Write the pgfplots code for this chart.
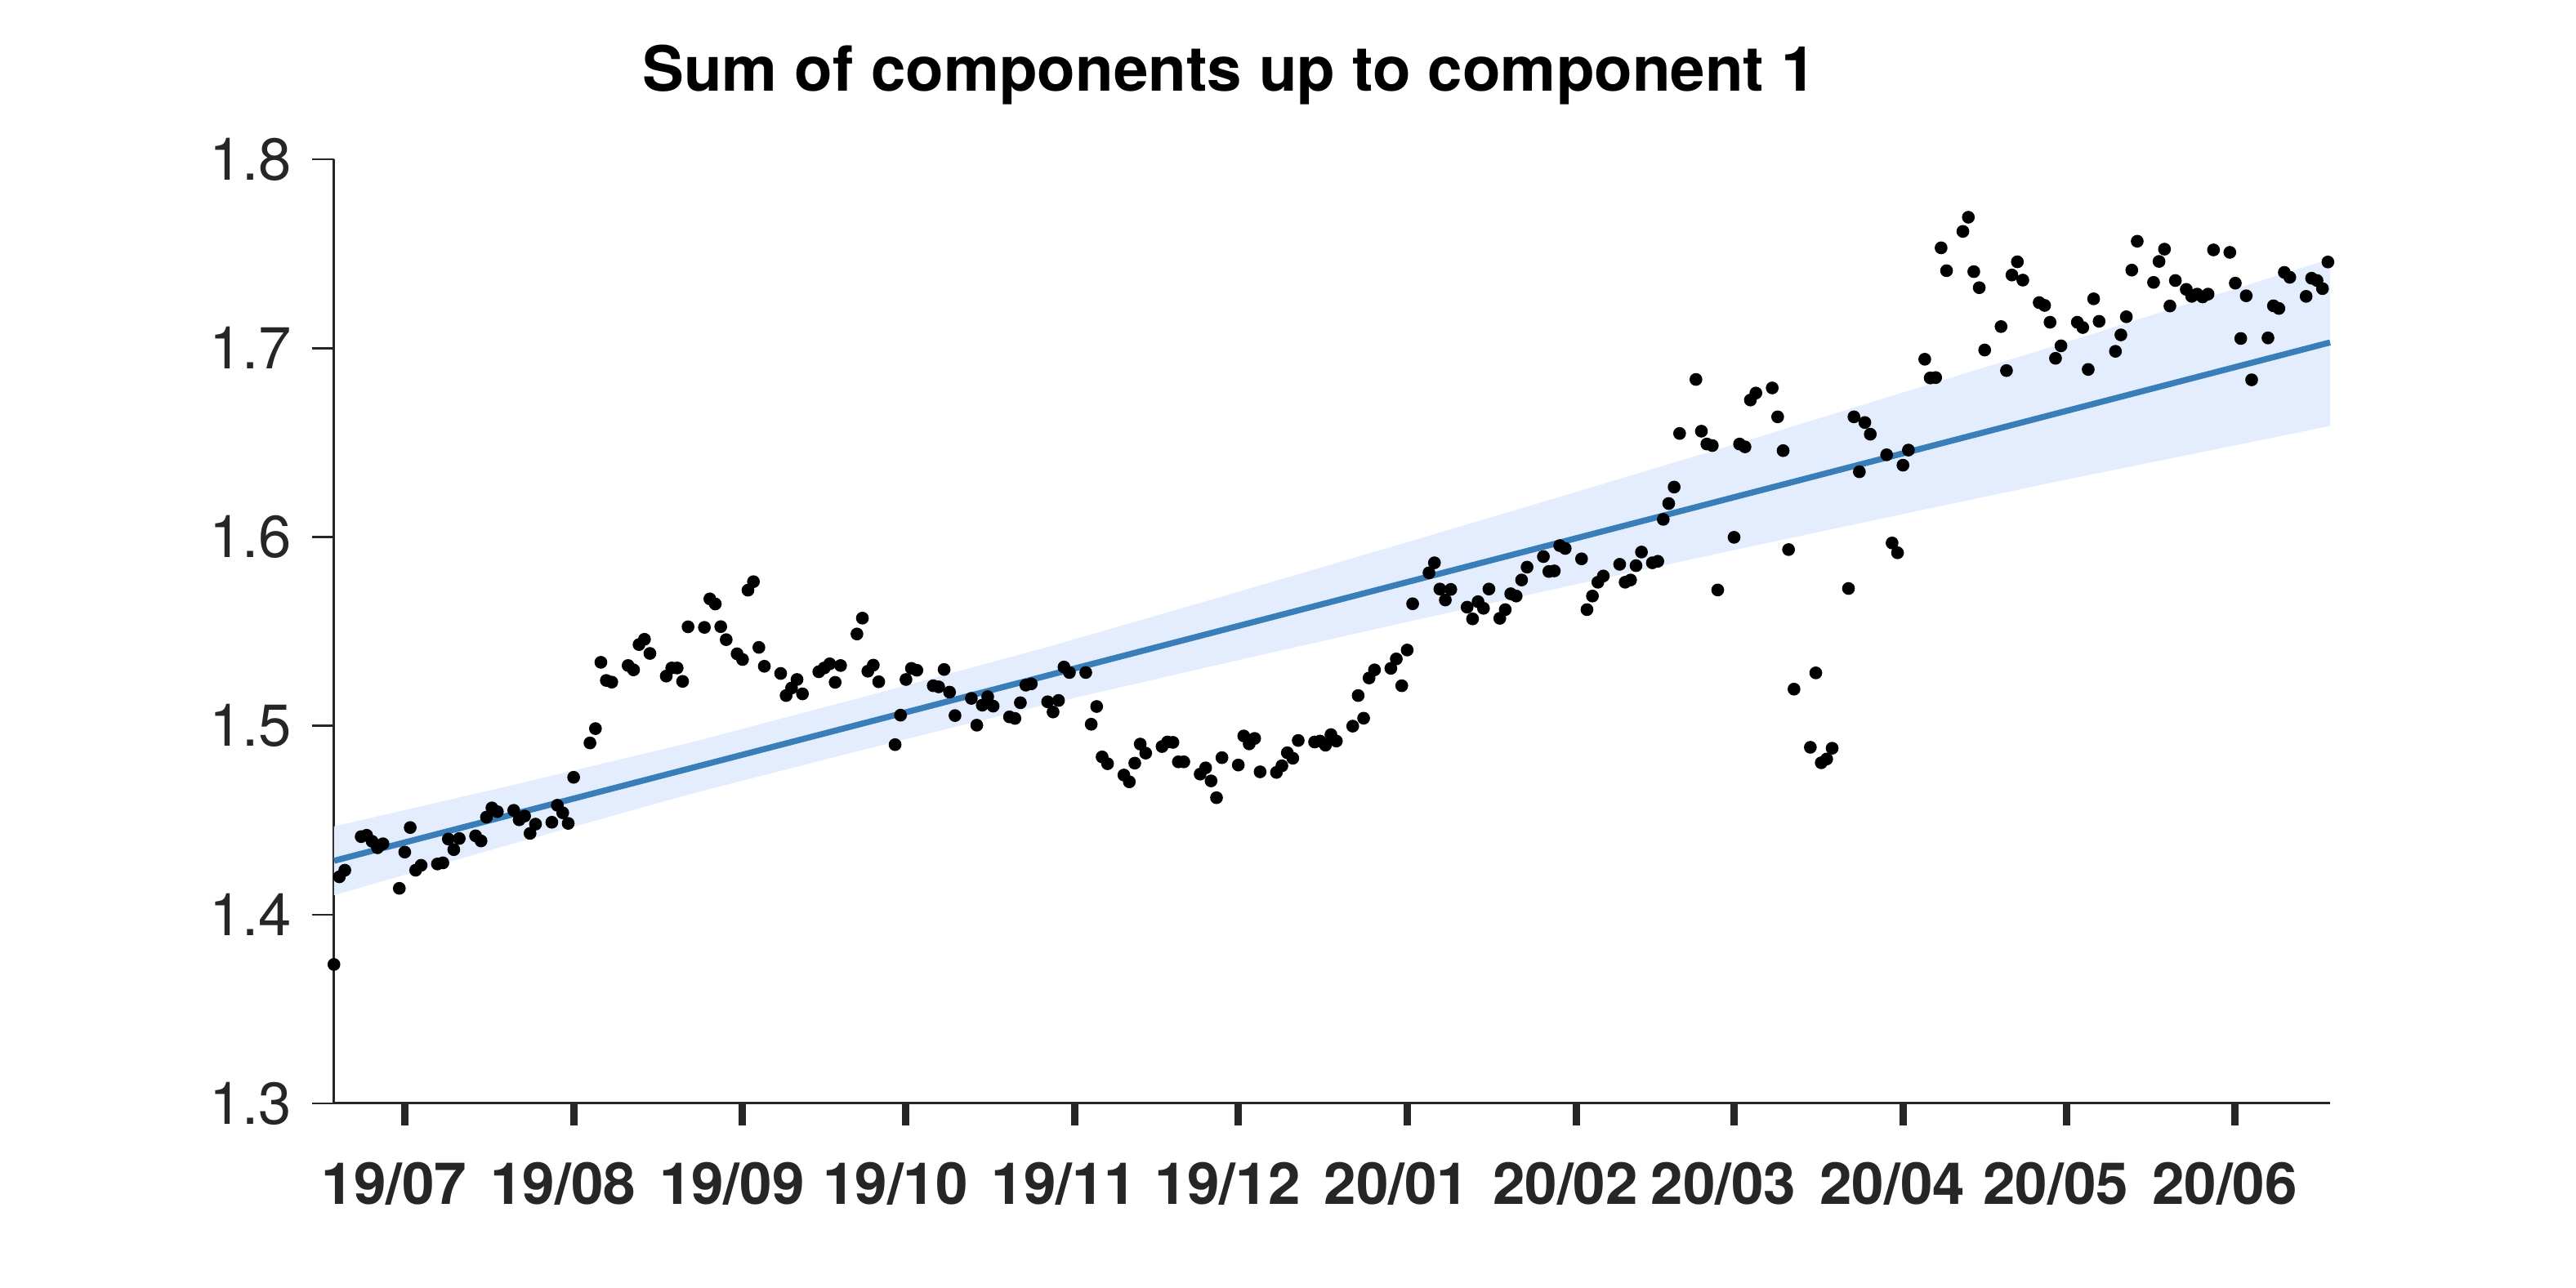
\documentclass[border=0pt]{standalone}
\usepackage{fontspec}
\setmainfont{TeX Gyre Heros}
\usepackage{pgfplots}
\usepackage{pgfplotstable}
\usetikzlibrary{calc}
\pgfplotsset{compat=1.18}

\definecolor{axgray}{HTML}{262626}
\definecolor{trendblue}{HTML}{3A7EB9}
\definecolor{bandblue}{HTML}{E3EDFD}

% x = days since 2019-07-01
\pgfplotstableread{
day val
-13 1.3736
-12 1.4200
-11 1.4235
-8 1.4413
-7 1.4420
-6 1.4388
-5 1.4354
-4 1.4375
-1 1.4139
0 1.4331
1 1.4461
2 1.4235
3 1.4261
6 1.4268
7 1.4274
8 1.4400
9 1.4344
10 1.4403
13 1.4417
14 1.4390
15 1.4516
16 1.4565
17 1.4545
20 1.4552
21 1.4502
22 1.4522
23 1.4430
24 1.4479
27 1.4489
28 1.4579
29 1.4539
30 1.4483
31 1.4727
34 1.4909
35 1.4985
36 1.5336
37 1.5240
38 1.5231
41 1.5319
42 1.5296
43 1.5430
44 1.5458
45 1.5383
48 1.5263
49 1.5306
50 1.5306
51 1.5235
52 1.5524
55 1.5521
56 1.5672
57 1.5645
58 1.5525
59 1.5456
61 1.5381
62 1.5351
63 1.5718
64 1.5763
65 1.5415
66 1.5315
69 1.5277
70 1.5160
71 1.5200
72 1.5245
73 1.5169
76 1.5286
77 1.5306
78 1.5328
79 1.5230
80 1.5319
83 1.5486
84 1.5570
85 1.5289
86 1.5321
87 1.5233
90 1.4900
91 1.5056
92 1.5245
93 1.5304
94 1.5294
97 1.5212
98 1.5206
99 1.5298
100 1.5178
101 1.5054
104 1.5145
105 1.5003
106 1.5109
107 1.5154
108 1.5104
111 1.5047
112 1.5039
113 1.5122
114 1.5215
115 1.5222
118 1.5127
119 1.5073
120 1.5134
121 1.5311
122 1.5282
125 1.5282
126 1.5008
127 1.5102
128 1.4835
129 1.4799
132 1.4739
133 1.4703
134 1.4802
135 1.4903
136 1.4855
139 1.4890
140 1.4914
141 1.4912
142 1.4809
143 1.4809
146 1.4744
147 1.4777
148 1.4708
149 1.4619
150 1.4831
153 1.4792
154 1.4946
155 1.4904
156 1.4933
157 1.4756
160 1.4753
161 1.4788
162 1.4857
163 1.4828
164 1.4922
167 1.4914
168 1.4919
169 1.4897
170 1.4953
171 1.4919
174 1.4998
175 1.5160
176 1.5040
177 1.5253
178 1.5296
181 1.5304
182 1.5354
183 1.5212
184 1.5401
185 1.5646
188 1.5810
189 1.5863
190 1.5724
191 1.5666
192 1.5722
195 1.5628
196 1.5566
197 1.5657
198 1.5622
199 1.5724
201 1.5569
202 1.5615
203 1.5699
204 1.5687
205 1.5772
206 1.5840
209 1.5896
210 1.5817
211 1.5820
212 1.5954
213 1.5939
216 1.5884
217 1.5615
218 1.5687
219 1.5760
220 1.5793
223 1.5855
224 1.5760
225 1.5772
226 1.5848
227 1.5920
229 1.5863
230 1.5871
231 1.6093
232 1.6177
233 1.6264
234 1.6548
237 1.6834
238 1.6560
239 1.6492
240 1.6484
241 1.5719
244 1.5998
245 1.6492
246 1.6477
247 1.6725
248 1.6762
251 1.6789
252 1.6636
253 1.6457
254 1.5933
255 1.5194
258 1.4886
259 1.5280
260 1.4804
261 1.4824
262 1.4881
265 1.5727
266 1.6636
267 1.6345
268 1.6606
269 1.6544
272 1.6435
273 1.5968
274 1.5916
275 1.6380
276 1.6460
279 1.6941
280 1.6842
281 1.6844
282 1.7531
283 1.7410
286 1.7618
287 1.7693
288 1.7405
289 1.7320
290 1.6990
293 1.7114
294 1.6881
295 1.7387
296 1.7457
297 1.7360
300 1.7241
301 1.7226
302 1.7137
303 1.6946
304 1.7012
307 1.7137
308 1.7109
309 1.6887
310 1.7261
311 1.7142
314 1.6983
315 1.7070
316 1.7166
317 1.7413
318 1.7566
321 1.7348
322 1.7459
323 1.7524
324 1.7223
325 1.7358
327 1.7311
328 1.7274
329 1.7286
330 1.7271
331 1.7286
332 1.7520
335 1.7507
336 1.7344
337 1.7051
338 1.7277
339 1.6832
342 1.7054
343 1.7224
344 1.7210
345 1.7401
346 1.7375
349 1.7274
350 1.7370
351 1.7358
352 1.7315
353 1.7456
}\pts

\begin{document}
\begin{tikzpicture}
\begin{axis}[
  name=ax,
  scale only axis,
  width=122.15mm, height=57.8mm,
  xmin=-12.96, xmax=353.4,
  ymin=1.3, ymax=1.8,
  clip=false,
  axis x line*=bottom,
  axis y line*=left,
  axis line style={axgray, line width=0.15mm},
  tick align=outside,
  major tick length=1.35mm,
  xtick={0,31,62,92,123,153,184,215,244,275,305,336},
  xticklabels={\textbf{19/07},\textbf{19/08},\textbf{19/09},\textbf{19/10},\textbf{19/11},\textbf{19/12},
               \textbf{20/01},\textbf{20/02},\textbf{20/03},\textbf{20/04},\textbf{20/05},\textbf{20/06}},
  ytick={1.3,1.4,1.5,1.6,1.7,1.8},
  x tick style={axgray, line width=0.45mm},
  y tick style={axgray, line width=0.13mm},
  xticklabel style={font=\fontsize{10.1}{12}\selectfont, text=axgray, xshift=-0.65mm, yshift=-1.0mm},
  yticklabel style={font=\fontsize{10.3}{12}\selectfont, text=axgray,
    /pgf/number format/.cd, fixed, fixed zerofill, precision=1, assume math mode=true},
  title={Sum of components up to component 1},
  title style={font=\fontsize{10.85}{13}\selectfont\bfseries,
    at={(axis description cs:0.1539,1)}, anchor=base west, yshift=2.05mm, inner sep=0pt},
]
% band
\addplot[draw=none, fill=bandblue] coordinates {
  (-12.96,1.4467) (20,1.4687) (53,1.4915) (85,1.5159) (118,1.5417) (150,1.5684)
  (182,1.5955) (214,1.6229) (246,1.6507) (275,1.6765) (304,1.7022) (330,1.7260) (353.4,1.7472)
  (353.4,1.6588) (330,1.6450) (304,1.6298) (275,1.6121) (246,1.5943) (214,1.5743)
  (182,1.5537) (150,1.5328) (118,1.5115) (85,1.4879) (53,1.4643) (20,1.4377) (-12.96,1.4103)
} -- cycle;
% trend
\addplot[trendblue, line width=0.37mm] coordinates {(-12.96,1.4285) (353.4,1.7030)};
% data
\addplot[only marks, mark=*, mark size=0.32mm, black] table[x=day, y=val] {\pts};
\end{axis}
\pgfresetboundingbox
\path[use as bounding box] ($(ax.south west)+(-20.45mm,-11.3mm)$) rectangle ($(ax.north east)+(15.05mm,9.75mm)$);
\end{tikzpicture}
\end{document}
